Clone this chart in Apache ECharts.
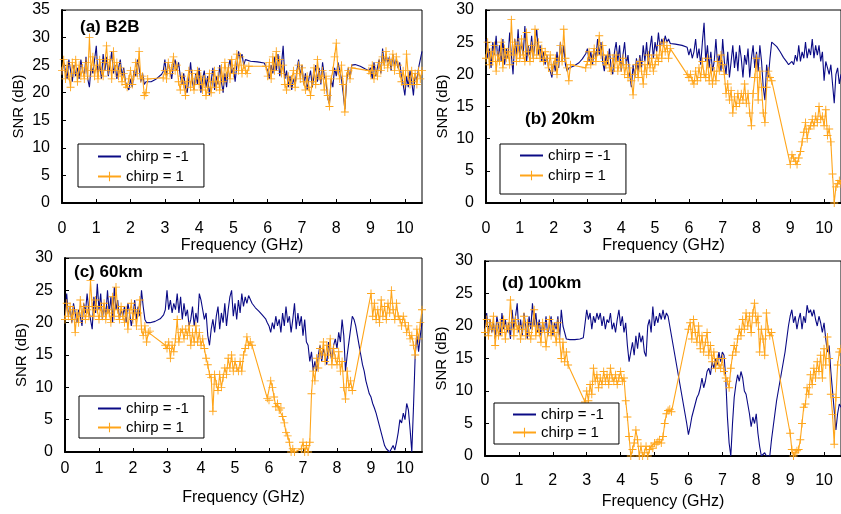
<!DOCTYPE html>
<html><head><meta charset="utf-8">
<script src="https://cdn.jsdelivr.net/npm/echarts@6/dist/echarts.min.js"></script>
<style>html,body{margin:0;padding:0;background:#fff}#c{width:841px;height:514px}</style>
</head><body><div id="c"></div>
<script>
const _ = null;
// Frequency grid (GHz)
const freq = [
0,0.05,0.1,0.15,0.2,0.25,0.3,0.35,0.4,0.45,0.5,0.55,0.6,0.65,0.7,0.75,0.8,0.85,0.9,0.95,
1,1.05,1.1,1.15,1.2,1.25,1.3,1.35,1.4,1.45,1.5,1.55,1.6,1.65,1.7,1.75,1.8,1.85,1.9,1.95,
2,2.05,2.1,2.15,2.2,2.25,2.3,2.35,2.4,2.45,2.5,2.55,2.6,2.65,2.7,2.75,2.8,2.85,2.9,2.95,
3,3.05,3.1,3.15,3.2,3.25,3.3,3.35,3.4,3.45,3.5,3.55,3.6,3.65,3.7,3.75,3.8,3.85,3.9,3.95,
4,4.05,4.1,4.15,4.2,4.25,4.3,4.35,4.4,4.45,4.5,4.55,4.6,4.65,4.7,4.75,4.8,4.85,4.9,4.95,
5,5.05,5.1,5.15,5.2,5.25,5.3,5.35,5.4,5.45,5.5,5.55,5.6,5.65,5.7,5.75,5.8,5.85,5.9,5.95,
6,6.05,6.1,6.15,6.2,6.25,6.3,6.35,6.4,6.45,6.5,6.55,6.6,6.65,6.7,6.75,6.8,6.85,6.9,6.95,
7,7.05,7.1,7.15,7.2,7.25,7.3,7.35,7.4,7.45,7.5,7.55,7.6,7.65,7.7,7.75,7.8,7.85,7.9,7.95,
8,8.05,8.1,8.15,8.2,8.25,8.3,8.35,8.4,8.45,8.5,8.55,8.6,8.65,8.7,8.75,8.8,8.85,8.9,8.95,
9,9.05,9.1,9.15,9.2,9.25,9.3,9.35,9.4,9.45,9.5,9.55,9.6,9.65,9.7,9.75,9.8,9.85,9.9,9.95,
10,10.05,10.1,10.15,10.2,10.25,10.3,10.35,10.4,10.45,10.5];

// (a) B2B
const blueA = [
23.5,25.5,24,22.5,26,24,22,25,23,24.5,22.5,26,24,23,26.5,22.5,21,25,23.5,26,
28.5,23,25.5,22.5,27,24,26.5,23,25,27.5,23.5,25,22.5,24.5,26,23,24.5,22,21,20.5,
22.5,21,24,23,26,24.5,22,23.5,21.5,22,_,_,22,_,_,22.5,_,_,23.3,23.8,
26,23,25.5,24,22.5,25,26,24,25.5,23,21.5,23.5,21,20,22.5,25.5,22,20.5,23.5,21.5,
24.5,20,22.5,24,21,23,19.5,22,24.5,20.5,23,21.5,25,22,20,23.5,21,24.5,26,23.5,
24.5,22,25,27.5,26,27,25,26,25.8,_,25.7,_,_,_,25.6,_,_,_,25.4,_,
24,22.5,25,23.5,26.5,24,27,23,25,28.5,22.5,24,21,23,20.5,22.5,21.5,24,26,23,
25,21.5,23.5,20.5,22.5,24,21,23,25,22,24.5,21.5,25.5,23,22,19,18,22.5,21,24.5,
23,25.5,24,22.5,20,17,22,24.5,22.5,25,_,25.1,_,_,24.8,_,_,24.3,_,24,
24.5,22.5,25.5,23,24.5,26,23.5,28,25,27,25.5,26.5,24,27,25,26,24.5,25.5,23,21.5,
19.5,23,21,24,22,19.5,23.5,22,24.5,26,27.5];
const orangeA = [
24,26,22.5,25,23,21,25.5,23.5,26,22,25,23,24.5,22.5,25.5,23,30,24,26.5,23,
25,22.5,26,24,23,25.5,28.5,24,26,22.5,27.5,24,25.5,23,24.5,22,23.5,21.5,21,22.5,
24,21.5,23,25.5,23.5,27.5,22.5,23,19.5,20,22.5,_,_,_,_,_,_,_,_,22.7,
24,22.5,25.5,23.5,24.5,26.5,24,25,22,20.5,23,21.5,19.5,22,24,21,23.5,20.5,22.5,24,
21.5,23,20.5,22.5,19.5,21,23.5,20,22,24,21,23,20.5,24.5,22,25.5,23,24.5,22.5,26,
23.5,25,27,24,26.5,23.5,25,24,23.5,24.8,_,_,_,_,_,_,_,_,_,24.8,
23,25.5,22.5,26.5,24,27.5,25,26,23.5,25,21.5,20.5,23,21.5,22.5,24,21,23.5,25,22.5,
24.5,22,20.5,23,21,19.5,22,24.5,21.5,26,23,22.5,24,20.5,23,19.5,17.5,22.5,24,26.5,
29,24,22.5,25,21.5,16.5,23,24,22.5,24.5,_,_,_,_,_,_,_,_,_,24,
23.5,25,22.5,24,23,25.5,24,26.5,25,27.5,24.5,26,25,27,24,26.5,25,23.5,22,24,
21.5,27,23,21.5,24,22,23.5,21.5,24,22.5,24];

// (b) 20km
const blueB = [
25.5,22.5,24,21,25,23,26,22,24.5,22,25.5,21.5,24,22.5,26.5,23,20,25.5,23,27,
22.5,25,23,27.5,22,24.5,23,26,22.5,25,27,23,24.5,22,23.5,21.5,23,21,20.5,19.5,
22,20.5,23.5,21,25,22,24.5,21.5,20.5,21,_,_,21.3,_,_,21.8,_,22.4,_,23.2,
24,22,23.5,21.5,24,22.5,25.5,23,25,22,20.5,23,21.5,24,21,20,23.5,25,22,24.5,
20.5,23,25,21.5,23,20,18,21.5,19.5,22.5,20.5,23,21,24.5,22,25,21.5,24,26,22.5,
25,23.5,26.5,24,25.5,24.5,26,25,25.5,24.8,_,_,24.7,_,_,_,24.5,_,_,24.2,
23,24,22.5,23.5,25.5,22.5,24,21.5,25,28,22,24.5,21,23.5,20.5,22,25.5,21.5,23,20.5,
25.5,22,20,23.5,19.5,22,24.5,21,23.5,20.5,24.5,22.5,19.5,23,21.5,24,19.5,22.5,24.5,21,
23.5,20.5,24.5,22,18,16,21.5,19.5,22.5,25,24.8,_,24.3,_,23.5,_,22.6,_,21.9,21.5,
21.3,22,21.5,23,22,24.5,22,23.5,22.5,25,22.5,24,23,25.5,22.5,24.5,23,24.5,22,23.5,
19,22,21,20,21.5,18.5,15.5,20,21,18.5,20];
const orangeB = [
22.5,25,21.5,23.5,22,24.5,20.5,23,22,25,21,24,22.5,23.5,21.5,28.5,23,25,22,24.5,
22.5,25.5,23,22,26.5,23.5,22,24.5,22.5,27,23,25,22.5,24,22,23.5,22.5,21,23,20.5,
21.5,22.5,20,22,24.5,22,27,22.5,21,19,21.5,_,_,_,_,_,_,_,_,21,
22,23.5,21.5,22.5,24,22,23.5,26,23,24.5,22,21.5,23,21,20.5,22.5,21,23,20.5,22,
21,22.5,20,21.5,19.5,21,19,16.8,20,21.5,19.5,22,20.5,18.5,21.5,20,23,21,22.5,20.5,
21.5,23,22,24.5,22.5,25,23.5,24.5,22.5,24,_,_,_,_,_,_,_,_,_,20,
19.5,20,19,18.5,20.5,19,21,19.5,22,20,19.5,22.5,19,21,18.5,20.5,19,22,20.5,23,
21.5,20,17,18.5,16,17.5,14,16.5,15,17,15.5,17,16,18.5,15.5,17,14,12,17,19.5,
22.5,16,20.5,18,14,12.5,18,20.5,19.5,19,_,_,_,_,_,_,_,_,_,_,
6,7.5,7,6.5,6,7,8,9.5,11,12.5,10,11.5,12,13,12,13.5,12.5,15,13,13.5,
12,14.5,10.5,11.5,9.5,4.5,0,2.5,3,3.5,3];

// (c) 60km
const blueC = [
20.5,24.5,21,22.5,20,23,21.5,20,22,21,19.5,23,21.5,24.5,22,20.5,19,24,21.5,26,
22,24.5,20.5,23,21,25,21.5,24,20,25.5,22,23.5,20.5,22,21,22.5,20,23,21.5,19.5,
21,23.5,20.5,22.5,21,25,22.5,20.5,20,_,20,_,_,20.2,_,_,20.6,_,21.2,22,
25,22,23.5,21.5,23,22,24.5,21.5,24,20.5,23,21,22,19.5,20.5,22.5,19.5,21.5,20,24.5,
23.5,22,20.5,21.5,18,16.5,19,20.5,18.5,21,22.5,19,21.5,20,23,19.5,22,24,25,21,
23,20.5,23.5,21.5,24.5,22.5,24,23,24.2,_,23,_,22.3,_,21.8,_,21.2,_,20.6,20,
19.5,18.5,20,19,21,19.5,20.5,18.5,21.5,19.5,22.5,20,21,18.5,20.5,23,19,21.5,19.5,21,
18,20.5,17,16.5,14,15.5,12.5,14,12.5,15,16.5,14,16,15,13.5,17,15.5,14,16.5,17.5,
16,18.5,17,20.5,18,12.5,15,17,19,21,20.5,19.5,18,16.5,15,13.5,12.5,11,10,9,
8.5,7.5,6.8,6,5,4,3,2,1,0.5,0.8,0,0,1,0.3,1.5,3,5,4.5,6,
5,7.5,6.5,3.5,0,7,15,18,15.5,18,20];
const orangeC = [
20.5,23,21,22.5,20.5,22,18.5,21.5,20,23.5,21,22.5,20.5,22,21,26.5,22.5,21,23.5,22,
20.5,22.5,21,23,20.5,22,21.5,20,24,21,25.5,22,20.5,22.5,21,20,22,19,21.5,23,
20.5,22,19.5,21.5,23.5,19,18,19.5,17,18.5,18.7,_,_,_,_,_,_,_,_,16.5,
16,17,14.5,16.5,15.5,17.5,20.5,17,18.5,19,17.5,19,18,19.5,16.5,18.5,17,19.5,17,18.5,
16.5,17.5,16,14.5,13.5,12,11.5,6.3,12,10.5,9.5,12,10,11.5,13,12,14.5,13,15,12.5,
14,13,12.5,14,12.5,15,16,17.8,16.5,17,16.5,_,_,_,_,_,_,_,_,8.3,
8,11,10,8.5,7,7.5,6.5,6.8,5.5,4.5,3,2.5,1.5,0,0.5,0,_,_,_,0.5,
1.5,0,1,0,1.5,9,12.5,11,14.5,13,16,15,17,14,16.5,15,17.5,13.5,16,14.5,
13.5,15.5,12.5,14,10,8.2,12.5,10,11,9.5,_,_,_,_,_,_,_,_,_,_,
24.5,21,23,20.5,22,20,23.5,21,22.5,20.5,23,21.5,25,22,20.5,23,21,20.5,19.5,21,
20,18.5,19.5,17.5,18,16.5,15,19,17.5,20,22];

// (d) 100km
const blueD = [
19.5,22,18.5,21,19,20.5,18,21.5,20,18.5,22,19.5,21,19,20.5,18,22.5,19.5,21.5,23.5,
19,21,18.5,22,20,18,21.5,19.5,23.5,20,22,19,21,18.5,20.5,19,21.5,18.5,20,21.5,
18.5,20.5,19.5,21.5,18,22.5,20,19,18,_,17.9,_,_,17.9,_,_,18,_,18.2,18.5,
22.5,21,22,19.5,21.5,20.5,22,21,22,20,21.5,19.5,21,20.5,22,19.5,20.5,19,21,22.5,
20,21.5,19,20.5,17,14.5,16,17.5,15.5,18.5,16.5,19,17.5,18.5,16,15.3,20,21,19,23,
20,21.5,20.5,22,21,22.5,21,22,21.5,20,18.5,17,15.5,14,12.5,11,9.5,8,6.5,5,
3.3,4.5,6,7,8,9,9.5,10.5,12,10.5,11.5,13,13.5,12.5,14.5,13.5,15,14,16,14.5,
16,15.5,12,6,2,0,5,9,11,12.5,11.5,13,12,10,9.5,8,6.5,4.5,6,5,
6.5,3.5,1.5,0,0,0.5,0,0.3,0,2.5,4.5,6.5,8.5,10,11.5,13,14.5,16,18,20,
21.5,22.5,20.5,21.5,19.5,21,22,19.5,21.5,20.5,23.2,22,22.5,21.5,22.5,21,20,21.5,20.5,19,
20.5,18,16,17,13,10,7,4,6.5,8,7.5];
const orangeD = [
19,21,18.5,20.5,19.5,21.5,17,20,18.5,20.5,19,21,18,20,19.5,24,20.5,18.5,21,19.5,
20,18,19.5,21.5,18.5,20.5,19,18,20,22.5,18.5,20,19,17.5,20.5,19.5,16.8,19,21,18.5,
20,19,17.5,20.5,18,15,17.5,14.5,16,14,_,_,_,_,_,_,_,_,_,8.3,
10,8.5,11,9.5,13.5,11.5,12.5,10.5,12,11,13,11.5,12.5,11,13.5,12,11.5,12.5,11,12,
13,11.5,12,8.5,6,3,0,1,2,4,2.5,0,1.5,0,0.5,1.5,0,1,1.5,1.2,
2,1.8,2.2,2.5,2,3,5,6.5,7,7.2,6.8,_,_,_,_,_,_,_,_,_,
19.5,20.5,18,21,19,17.5,20,16.5,18.5,16,17.5,19,15.5,17,14.5,16,13.5,15,14,13.5,
15,13,12,11.5,10.5,13.5,15.5,17,16,18,19.5,18.5,21,19.5,22,20,21.5,19,22,23.5,
20.5,21.5,16,19.5,18,15.5,22,19.5,18.5,19,_,_,_,_,_,_,_,_,_,_,
3.5,1,0,0.5,0.8,1,2.5,5,7.5,8,10.5,9.5,12.5,11,13.5,12,14.5,13,15.5,12,
16.5,14,18.3,15,9.5,6.4,1.8,9,14,16,16.5];

const xTicks = [0,1,2,3,4,5,6,7,8,9,10];
const panelTitles = ['(a) B2B','(b) 20km','(c) 60km','(d) 100km'];
const seriesNames = ['chirp = -1','chirp = 1'];
const yMax = [35,30,30,30];
const panels = [[blueA,orangeA],[blueB,orangeB],[blueC,orangeC],[blueD,orangeD]];

// ----- layout / style -----
const FONT = 'Arial, "Liberation Sans", sans-serif';
const BLUE = '#0a0a85', ORANGE = '#FFA51A';
const CROSS = 'path://M4,0H5V4H9V5H5V9H4V5H0V4H4Z';
const grids = [
  {left:62, top:10, width:360, height:193},
  {left:486, top:10, width:356, height:193},
  {left:65, top:258, width:357, height:194},
  {left:485, top:261, width:358, height:195}
];
const xLabelMargin = [18,18,9,17];
const xNameGap = [33,33,38,38];
const legendPos = [
  {left:78, top:144, padding:[5,15,3,19], itemGap:5},
  {left:500, top:144, padding:[4,15,11,19], itemGap:5},
  {left:79, top:396, padding:[5,15,3,18], itemGap:4},
  {left:494, top:403, padding:[4,15,4,18], itemGap:3}
];
const titlePos = [[80,27],[525,119],[74,272],[502,283]];

const pairs = ys => freq.map((f,i)=>[f, ys[i] === null ? '-' : ys[i]]);

const option = {
  animation:false,
  backgroundColor:'#fff',
  textStyle:{fontFamily:FONT},
  grid: grids.map(g=>Object.assign({show:true, borderColor:'#000', borderWidth:1, backgroundColor:'transparent'}, g)),
  xAxis: grids.map((g,i)=>({
    type:'value', gridIndex:i, min:0, max:10.5, interval:1,
    name:'Frequency (GHz)', nameLocation:'middle', nameGap:xNameGap[i],
    nameTextStyle:{fontSize:16, color:'#000', fontFamily:FONT},
    axisLine:{show:true, onZero:false, lineStyle:{color:'#000', width:2}},
    axisTick:{show:true, inside:true, length:4, lineStyle:{color:'#000'}},
    axisLabel:{fontSize:16, color:'#000', fontFamily:FONT, margin:xLabelMargin[i], showMaxLabel:false,
      formatter: v => xTicks.includes(v) ? String(v) : ''},
    splitLine:{show:false}
  })),
  yAxis: grids.map((g,i)=>({
    type:'value', gridIndex:i, min:0, max:yMax[i], interval:5,
    name:'SNR (dB)', nameLocation:'middle', nameGap:36, nameRotate:90,
    nameTextStyle:{fontSize:15, color:'#000', fontFamily:FONT},
    axisLine:{show:true, onZero:false, lineStyle:{color:'#000', width:2}},
    axisTick:{show:true, inside:true, length:4, lineStyle:{color:'#000'}},
    axisLabel:{fontSize:16, color:'#000', fontFamily:FONT, margin:12},
    splitLine:{show:false}
  })),
  legend: legendPos.map(l=>Object.assign({
    orient:'vertical',
    data:[{name:seriesNames[0], itemStyle:{opacity:0}}, {name:seriesNames[1]}],
    backgroundColor:'#fff',
    borderColor:'#000', borderWidth:1, borderRadius:0,
    itemWidth:23, itemHeight:12, selectedMode:false,
    textStyle:{fontSize:15, color:'#000', fontFamily:FONT}
  }, l)),
  graphic: panelTitles.map((t,i)=>({
    type:'text', x:titlePos[i][0], y:titlePos[i][1], z:100,
    style:{text:t, fill:'#000', font:'bold 17px ' + FONT, verticalAlign:'middle', align:'left'}
  })),
  series: []
};
panels.forEach((p,i)=>{
  option.series.push({
    name:seriesNames[0], type:'line', xAxisIndex:i, yAxisIndex:i,
    data:pairs(p[0]), connectNulls:true, symbol:'none', showSymbol:false,
    lineStyle:{color:BLUE, width:1.1}, itemStyle:{color:BLUE}, z:2
  });
  option.series.push({
    name:seriesNames[1], type:'line', xAxisIndex:i, yAxisIndex:i,
    data:pairs(p[1]), connectNulls:true, symbol:CROSS, symbolSize:8, showSymbol:true, showAllSymbol:true,
    lineStyle:{color:ORANGE, width:1.1}, itemStyle:{color:ORANGE}, z:3
  });
});
const chart = echarts.init(document.getElementById('c'), null, {renderer:'canvas'});
chart.setOption(option);
</script>
</body></html>
